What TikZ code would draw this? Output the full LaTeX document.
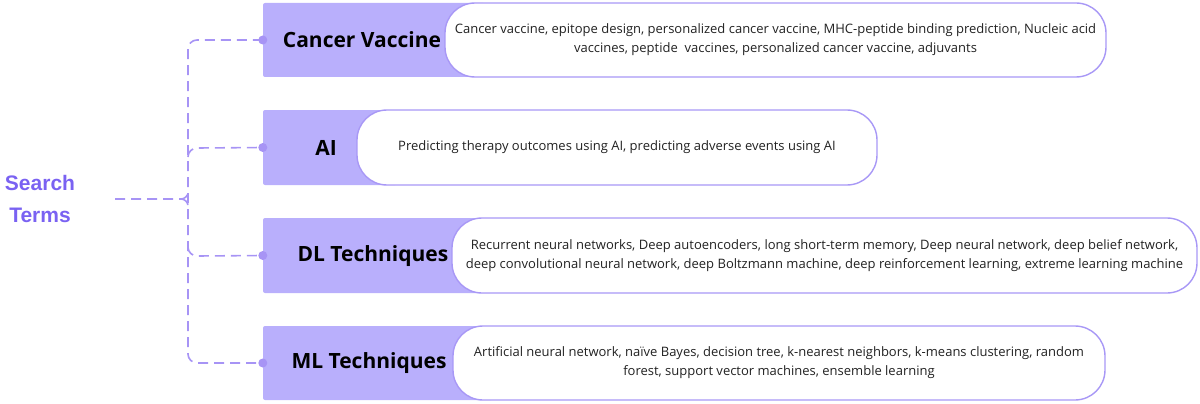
\documentclass[tikz,border=0pt]{standalone}
\usepackage{fontspec}
\setmainfont{Open Sans}
\newfontfamily\searchfont{Liberation Sans}
\usepackage{tikz}
\definecolor{catfill}{HTML}{B9AFFC}
\definecolor{pilldraw}{HTML}{A898F6}
\definecolor{linkc}{HTML}{A794F5}
\definecolor{searchc}{HTML}{7A62F2}
\definecolor{txtc}{HTML}{222222}
\tikzset{
    catbox/.style={rectangle, fill=catfill, draw=none, rounded corners=2pt, inner sep=0pt},
    catlabel/.style={inner sep=0pt, font=\fontsize{21}{24}\selectfont\bfseries, text=black},
    pill/.style={rectangle, fill=white, draw=pilldraw, line width=1.4pt, rounded corners=30pt,
        inner sep=0pt, align=center, text=txtc, font=\fontsize{13}{19}\selectfont},
    link/.style={draw=linkc, line width=1.6pt, dash pattern=on 10pt off 6pt},
    hubdot/.style={fill=linkc}
}

\begin{document}
\begin{tikzpicture}[x=1pt, y=-1pt]
        \useasboundingbox (0,0) rectangle (1200,404);
        % search terms
        \node (st) [inner sep=0pt, align=center, text=searchc, font=\fontsize{21}{32}\selectfont\searchfont\bfseries] at (40,199) {Search\\Terms};
        \coordinate (hub) at (115,199);
        % category boxes
        \node (cv) [catbox, minimum width=222pt, minimum height=74pt] at (374,40) {};
        \node (ai) [catbox, minimum width=134pt, minimum height=75pt] at (330,147.5) {};
        \node (dl) [catbox, minimum width=229pt, minimum height=75pt] at (377.5,255.5) {};
        \node (ml) [catbox, minimum width=230pt, minimum height=74pt] at (378,363) {};
        % pills
        \node (cvd) [pill, minimum width=661pt, minimum height=74pt] at (775.5,40) {Cancer vaccine, epitope design, personalized cancer vaccine, MHC-peptide binding prediction, Nucleic acid\\vaccines, peptide \ vaccines, personalized cancer vaccine, adjuvants};
        \node (aid) [pill, minimum width=520pt, minimum height=75pt] at (617,147.5) {Predicting therapy outcomes using AI, predicting adverse events using AI};
        \node (dld) [pill, minimum width=745pt, minimum height=75pt] at (824.5,255.5) {Recurrent neural networks, Deep autoencoders, long short-term memory, Deep neural network, deep belief network,\\deep convolutional neural network, deep Boltzmann machine, deep reinforcement learning, extreme learning machine};
        \node (mld) [pill, minimum width=652pt, minimum height=74pt] at (779,363) {Artificial neural network, na\"ive Bayes, decision tree, k-nearest neighbors, k-means clustering, random\\forest, support vector machines, ensemble learning};
        % labels
        \node (cvt) [catlabel] at (362,40) {Cancer Vaccine};
        \node (ait) [catlabel] at (326,148) {AI};
        \node (dlt) [catlabel] at (373,256) {DL Techniques};
        \node (mlt) [catlabel] at (369,363) {ML Techniques};
        % connectors
        \draw[link, rounded corners=9pt] (cv.west) -| (188,199) |- (ml.west);
        \draw[link] (hub) -- (181,199) to[out=0, in=-90] (188,192);
        \draw[link] (181,199) to[out=0, in=90] (188,206);
        \draw[link] (188,157) to[out=90, in=180] (197,148) -- (ai.west);
        \draw[link] (188,247) to[out=-90, in=180] (197,256) -- (dl.west);
        \fill[hubdot] (cv.west) circle (4.5pt);
        \fill[hubdot] (ai.west) circle (4.5pt);
        \fill[hubdot] (dl.west) circle (4.5pt);
        \fill[hubdot] (ml.west) circle (4.5pt);
\end{tikzpicture}
\end{document}
